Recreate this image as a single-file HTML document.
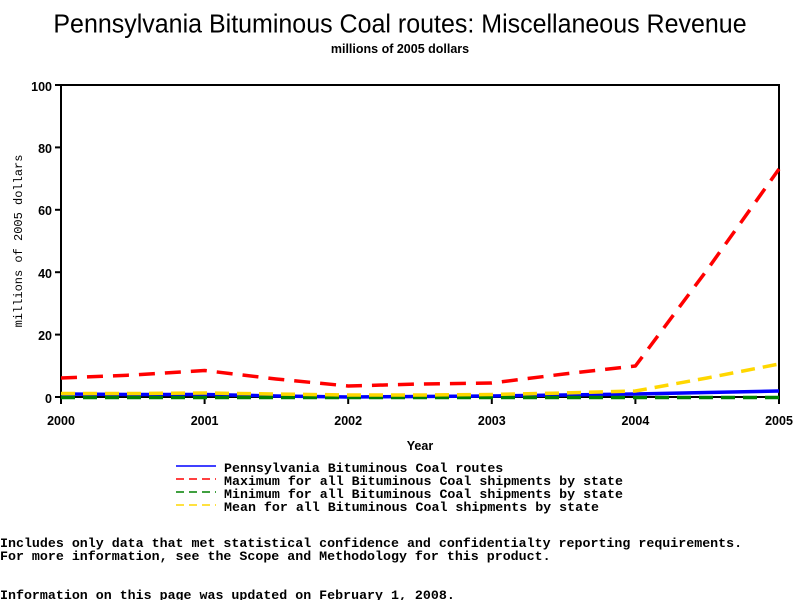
<!DOCTYPE html>
<html><head><meta charset="utf-8"><style>
html,body{margin:0;padding:0;background:#fff;width:800px;height:600px;overflow:hidden}
svg{display:block}
.m{font-family:"Liberation Mono",monospace;font-size:13.3px;font-weight:bold}
.t{font-family:"Liberation Sans",sans-serif;font-size:12.5px;font-weight:bold}
</style></head><body>
<svg width="800" height="600" viewBox="0 0 800 600">
<text x="400" y="31" text-anchor="middle" font-family="Liberation Sans,sans-serif" font-size="25" transform="translate(400,0) scale(1,1.05) translate(-400,0)">Pennsylvania Bituminous Coal routes: Miscellaneous Revenue</text>
<text x="400" y="53" text-anchor="middle" class="t" font-size="11">millions of 2005 dollars</text>
<rect x="61" y="85" width="718" height="312" fill="none" stroke="#000" stroke-width="2"/>
<g stroke="#000" stroke-width="2">
<line x1="55" y1="85" x2="61" y2="85"/><line x1="55" y1="147.4" x2="61" y2="147.4"/><line x1="55" y1="209.8" x2="61" y2="209.8"/><line x1="55" y1="272.2" x2="61" y2="272.2"/><line x1="55" y1="334.6" x2="61" y2="334.6"/><line x1="55" y1="397" x2="61" y2="397"/>
<line x1="61" y1="397" x2="61" y2="404"/><line x1="204.6" y1="397" x2="204.6" y2="404"/><line x1="348.2" y1="397" x2="348.2" y2="404"/><line x1="491.8" y1="397" x2="491.8" y2="404"/><line x1="635.4" y1="397" x2="635.4" y2="404"/><line x1="779" y1="397" x2="779" y2="404"/>
</g>
<g class="t" text-anchor="end">
<text x="52" y="91">100</text><text x="52" y="153">80</text><text x="52" y="215">60</text><text x="52" y="278">40</text><text x="52" y="340">20</text><text x="52" y="403">0</text>
</g>
<g class="t" text-anchor="middle">
<text x="61" y="425">2000</text><text x="204.6" y="425">2001</text><text x="348.2" y="425">2002</text><text x="491.8" y="425">2003</text><text x="635.4" y="425">2004</text><text x="779" y="425">2005</text>
<text x="420" y="450">Year</text>
</g>
<text transform="translate(22,241) rotate(-90)" text-anchor="middle" font-family="Liberation Mono,monospace" font-size="12">millions of 2005 dollars</text>
<g fill="none" stroke-width="3.5" stroke-linejoin="round">
<polyline stroke="#0000ff" points="61,394 133,394.5 204.6,394.5 276,396 348.2,397 420,396.5 491.8,396 564,395 635.4,394 707,392.5 779,391"/>
<polyline stroke="#008000" stroke-dasharray="14,8" points="61,397.5 779,397.5"/>
<polyline stroke="#ffd700" stroke-dasharray="14,8" points="61,393.5 133,393.5 204.6,393 276,394 348.2,395 420,395 491.8,394.5 564,393 635.4,391 707,378 779,364"/>
<polyline stroke="#ff0000" stroke-dasharray="16,10" points="61,378 133,375 204.6,370.5 276,379 348.2,386 420,384 491.8,383 564,374 635.4,366 707,270 779,169"/>
</g>
<g stroke-width="1.5">
<line x1="176" y1="466" x2="216" y2="466" stroke="#0000ff"/>
<line x1="176" y1="479" x2="216" y2="479" stroke="#ff0000" stroke-dasharray="8,5"/>
<line x1="176" y1="492" x2="216" y2="492" stroke="#008000" stroke-dasharray="8,5"/>
<line x1="176" y1="505" x2="216" y2="505" stroke="#ffd700" stroke-dasharray="8,5"/>
</g>
<g class="m">
<text x="224" y="472">Pennsylvania Bituminous Coal routes</text>
<text x="224" y="485">Maximum for all Bituminous Coal shipments by state</text>
<text x="224" y="498">Minimum for all Bituminous Coal shipments by state</text>
<text x="224" y="511">Mean for all Bituminous Coal shipments by state</text>
<text x="0" y="547">Includes only data that met statistical confidence and confidentialty reporting requirements.</text>
<text x="0" y="560">For more information, see the Scope and Methodology for this product.</text>
<text x="0" y="599">Information on this page was updated on February 1, 2008.</text>
</g>
</svg>
</body></html>
